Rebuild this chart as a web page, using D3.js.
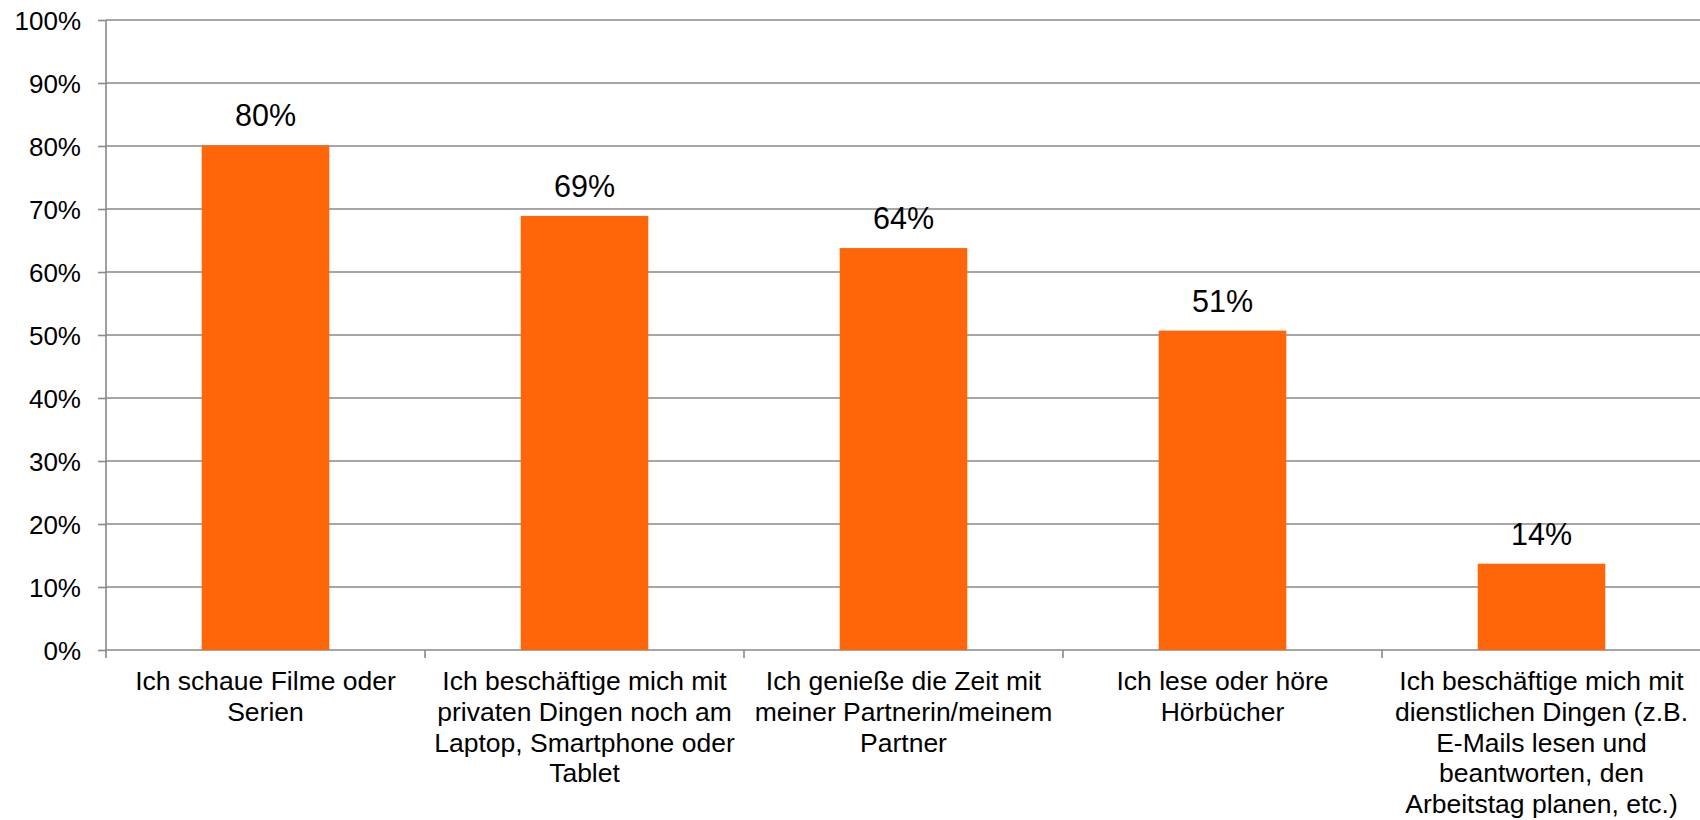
<!DOCTYPE html>
<html><head><meta charset="utf-8">
<script src="https://cdn.jsdelivr.net/npm/d3@7"></script>
<style>body{margin:0;background:#fff}svg{display:block}text{font-family:"Liberation Sans",Arial,Helvetica,sans-serif;fill:#000}</style>
</head><body>
<script>
const categories = [
  ["Ich schaue Filme oder", "Serien"],
  ["Ich beschäftige mich mit", "privaten Dingen noch am", "Laptop, Smartphone oder", "Tablet"],
  ["Ich genieße die Zeit mit", "meiner Partnerin/meinem", "Partner"],
  ["Ich lese oder höre", "Hörbücher"],
  ["Ich beschäftige mich mit", "dienstlichen Dingen (z.B.", "E-Mails lesen und", "beantworten, den", "Arbeitstag planen, etc.)"]
];
const values = [80.1, 68.9, 63.8, 50.7, 13.7];
const valueLabels = ["80%", "69%", "64%", "51%", "14%"];
const yTicks = [0, 10, 20, 30, 40, 50, 60, 70, 80, 90, 100];

const W = 1700, H = 820;
const mLeft = 106, mRight = 1701, mTop = 20, mBottom = 650;
const svg = d3.select("body").append("svg").attr("width", W).attr("height", H);

const x = d3.scaleBand().domain(d3.range(categories.length)).range([mLeft, mRight]).paddingInner(0.6).paddingOuter(0.3);
const y = d3.scaleLinear().domain([0, 100]).range([mBottom, mTop]);
const grid = "#898989";

// y ticks
const yAxis = d3.axisLeft(y).tickValues(yTicks).tickFormat(d => d + "%").tickSize(8).tickPadding(17);
const yg = svg.append("g").attr("transform", `translate(${mLeft},0)`).call(yAxis);
yg.select(".domain").remove();
yg.selectAll(".tick line").attr("stroke", grid).attr("stroke-width", 1.6);
yg.selectAll(".tick text").style("font-size", "26px").attr("fill", "#000").attr("dy", "0.35em");
// gridlines
svg.append("g").selectAll("line").data(yTicks).join("line")
  .attr("x1", mLeft).attr("x2", W).attr("y1", d => y(d)).attr("y2", d => y(d))
  .attr("stroke", grid).attr("stroke-width", 1.6);
// vertical axis
svg.append("line").attr("x1", mLeft).attr("x2", mLeft).attr("y1", mTop).attr("y2", mBottom + 8)
  .attr("stroke", grid).attr("stroke-width", 1.6);
// category boundary ticks
svg.append("g").selectAll("line").data(d3.range(1, categories.length + 1)).join("line")
  .attr("x1", d => mLeft + d * (mRight - mLeft) / categories.length)
  .attr("x2", d => mLeft + d * (mRight - mLeft) / categories.length)
  .attr("y1", mBottom).attr("y2", mBottom + 8).attr("stroke", grid).attr("stroke-width", 1.6);

// bars
svg.append("g").selectAll("rect").data(values).join("rect")
  .attr("x", (d, i) => x(i)).attr("width", x.bandwidth())
  .attr("y", d => y(d)).attr("height", d => mBottom - y(d))
  .attr("fill", "#ff660a");

// value labels
svg.append("g").selectAll("text").data(values).join("text")
  .attr("x", (d, i) => x(i) + x.bandwidth() / 2).attr("y", d => y(d) - 19)
  .attr("text-anchor", "middle").style("font-size", "30.5px").text((d, i) => valueLabels[i]);

// category labels
const cg = svg.append("g").selectAll("text").data(categories).join("text")
  .attr("text-anchor", "middle").style("font-size", "26.5px");
cg.each(function(lines, i) {
  d3.select(this).selectAll("tspan").data(lines).join("tspan")
    .attr("x", x(i) + x.bandwidth() / 2).attr("y", (d, j) => 690 + j * 30.8).text(d => d);
});
</script>
</body></html>
